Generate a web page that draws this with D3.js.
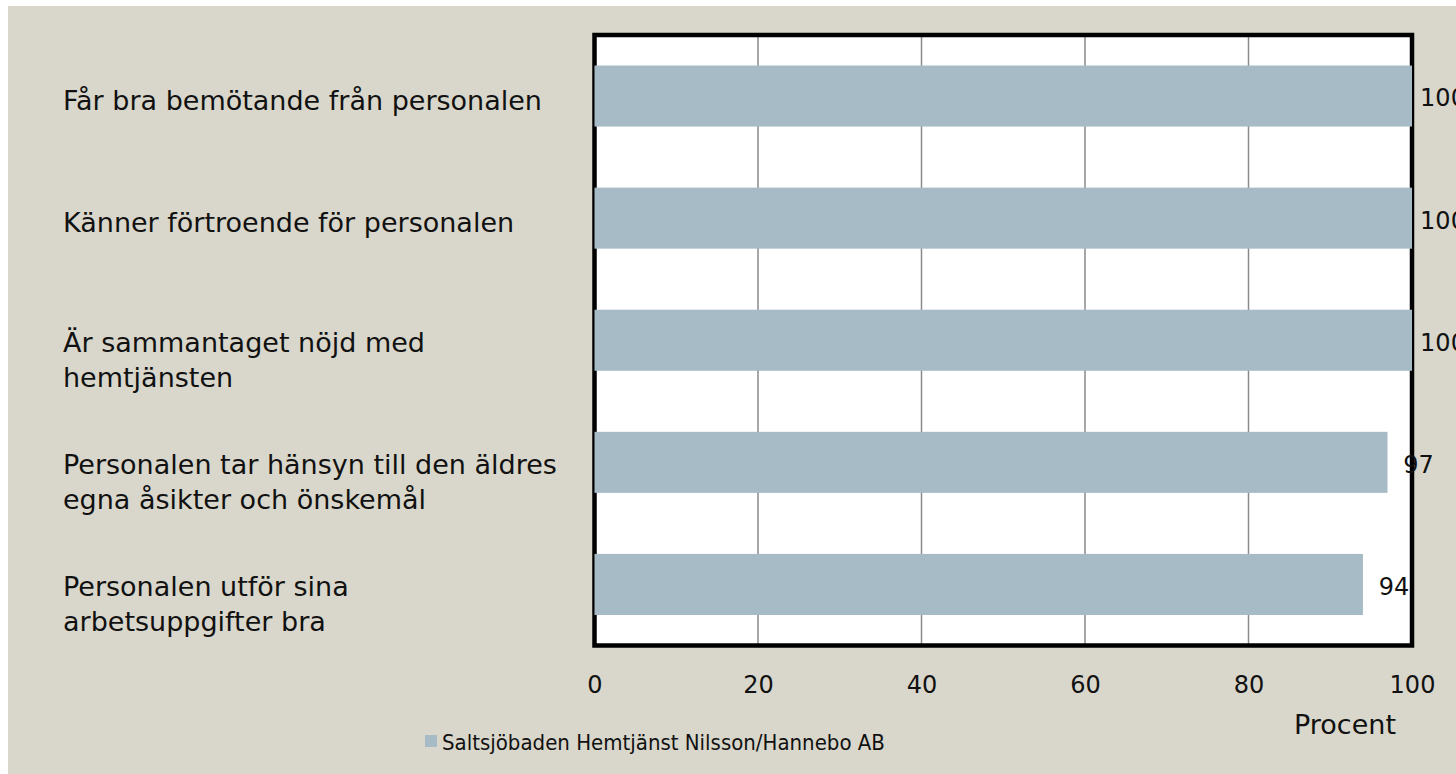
<!DOCTYPE html>
<html>
<head>
<meta charset="utf-8">
<script src="https://cdn.jsdelivr.net/npm/d3@7"></script>
<style>
  html, body { margin: 0; padding: 0; background: #ffffff; }
  svg { display: block; }
  text { font-family: "Century Gothic", "URW Gothic", "DejaVu Sans", sans-serif; fill: #111; }
  text.legend { font-family: "DejaVu Sans Condensed", "DejaVu Sans", sans-serif; font-stretch: condensed; }
</style>
</head>
<body>
<svg id="chart" width="1456" height="774"></svg>
<script>
const categories = [
  ["Får bra bemötande från personalen"],
  ["Känner förtroende för personalen"],
  ["Är sammantaget nöjd med", "hemtjänsten"],
  ["Personalen tar hänsyn till den äldres", "egna åsikter och önskemål"],
  ["Personalen utför sina", "arbetsuppgifter bra"]
];
const values = [100, 100, 100, 97, 94];
const tickValues = [0, 20, 40, 60, 80, 100];
const seriesName = "Saltsjöbaden Hemtjänst Nilsson/Hannebo AB";
const axisTitle = "Procent";

const svg = d3.select("#chart");
const W = 1456, H = 774;
const plot = { left: 594.5, right: 1412, top: 35, bottom: 645.5 };

svg.append("rect").attr("x", 8).attr("y", 6).attr("width", W - 8).attr("height", H - 6)
  .attr("fill", "#D9D7CB");

const x = d3.scaleLinear().domain([0, 100]).range([plot.left, plot.right]);
const y = d3.scaleBand().domain(d3.range(categories.length)).range([plot.top, plot.bottom])
  .paddingInner(0.5).paddingOuter(0.25);

svg.append("rect").attr("x", plot.left).attr("y", plot.top)
  .attr("width", plot.right - plot.left).attr("height", plot.bottom - plot.top)
  .attr("fill", "#ffffff");

// gridlines
svg.append("g").selectAll("line").data(tickValues.slice(1, -1)).join("line")
  .attr("x1", d => x(d)).attr("x2", d => x(d))
  .attr("y1", plot.top).attr("y2", plot.bottom)
  .attr("stroke", "#8a8a8a").attr("stroke-width", 1.5);

// frame
svg.append("rect").attr("x", plot.left).attr("y", plot.top)
  .attr("width", plot.right - plot.left).attr("height", plot.bottom - plot.top)
  .attr("fill", "none").attr("stroke", "#000").attr("stroke-width", 4.5);

// bars
svg.append("g").selectAll("rect").data(values).join("rect")
  .attr("x", x(0)).attr("y", (d, i) => y(i))
  .attr("width", d => x(d) - x(0)).attr("height", y.bandwidth())
  .attr("fill", "#A7BBC6");

// value labels
svg.append("g").selectAll("text").data(values).join("text")
  .attr("x", d => x(d) + 31).attr("y", (d, i) => y(i) + y.bandwidth() / 2 + 2)
  .attr("dy", "0.35em").attr("text-anchor", "middle")
  .style("font-size", "24px").text(d => d);

// x axis
const xAxis = d3.axisBottom(x).tickValues(tickValues).tickSize(0).tickPadding(0);
const gx = svg.append("g").attr("transform", `translate(0,${plot.bottom})`).call(xAxis);
gx.select(".domain").remove();
gx.selectAll("text").attr("y", 39).attr("dy", "0.35em").style("font-size", "24px")
  .attr("fill", "#111");

// axis title
svg.append("text").attr("x", 1345).attr("y", 725).attr("dy", "0.35em")
  .attr("text-anchor", "middle").style("font-size", "27px").text(axisTitle);

// category labels
const catG = svg.append("g");
categories.forEach((lines, i) => {
  const cy = y(i) + y.bandwidth() / 2;
  const n = lines.length;
  const off = n > 1 ? 20 : 4;
  lines.forEach((ln, j) => {
    catG.append("text").attr("x", 63)
      .attr("y", cy + off + (j - (n - 1) / 2) * 35)
      .attr("dy", "0.35em").style("font-size", "27px").text(ln);
  });
});

// legend
svg.append("rect").attr("x", 425).attr("y", 735).attr("width", 12).attr("height", 12)
  .attr("fill", "#A7BBC6");
svg.append("text").attr("class", "legend").attr("x", 442).attr("y", 742).attr("dy", "0.35em")
  .style("font-size", "22px").text(seriesName);
</script>
</body>
</html>
